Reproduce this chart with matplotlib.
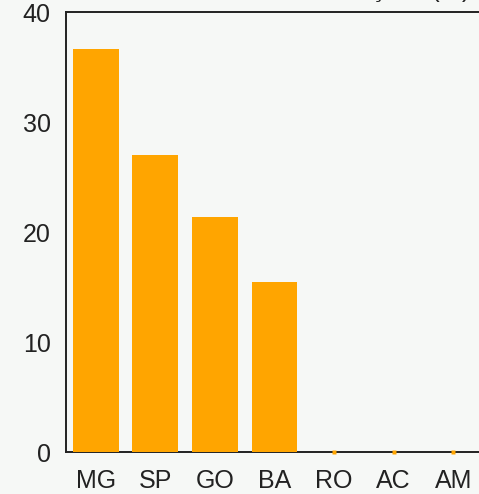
import matplotlib
matplotlib.use("Agg")
import matplotlib.pyplot as plt

estados = ["MG", "SP", "GO", "BA", "RO", "AC", "AM"]
valores = [36.6, 27.0, 21.4, 15.5, 0.0, 0.0, 0.0]
titulo = "Produções (%)"

plt.rcParams["font.family"] = ["Liberation Sans", "DejaVu Sans"]

W, H = 479, 494
fig = plt.figure(figsize=(W / 100, H / 100), dpi=100, facecolor="#f6f8f6")

# axes run past the right edge of the figure, like the cropped original
ax = fig.add_axes([66 / W, 42 / H, 417 / W, 440 / H])
ax.set_facecolor("#f6f8f6")

x = list(range(len(estados)))
ax.bar(x, valores, width=0.77, color="#ffa500", zorder=3)
# near-zero bars show up only as a small orange dot on the axis
zx = [i for i, v in zip(x, valores) if v < 0.5]
zy = [v for v in valores if v < 0.5]
ax.plot(zx, zy, ls="none", marker="s", ms=2.5, color="#ffa500",
        mec="none", clip_on=False, zorder=4)

ax.set_xlim(-0.5, len(estados) - 0.5)
ax.set_ylim(0, 40)
ax.set_yticks([0, 10, 20, 30, 40])
ax.set_xticks(x)
ax.set_xticklabels(estados)
ax.tick_params(length=0, labelsize=18, colors="#222222")
ax.tick_params(axis="x", pad=12)
ax.tick_params(axis="y", pad=11)
for s in ["left", "bottom", "top"]:
    ax.spines[s].set_color("#222222")
    ax.spines[s].set_linewidth(1.4)
    ax.spines[s].set_zorder(2)
ax.spines["right"].set_visible(False)

# title sits mostly above the crop, only the descenders show
fig.text(470 / W, 1 + 3 / H, titulo, ha="right", va="baseline",
         fontsize=18, color="#222222")

fig.savefig("out.png", dpi=100, facecolor=fig.get_facecolor())
